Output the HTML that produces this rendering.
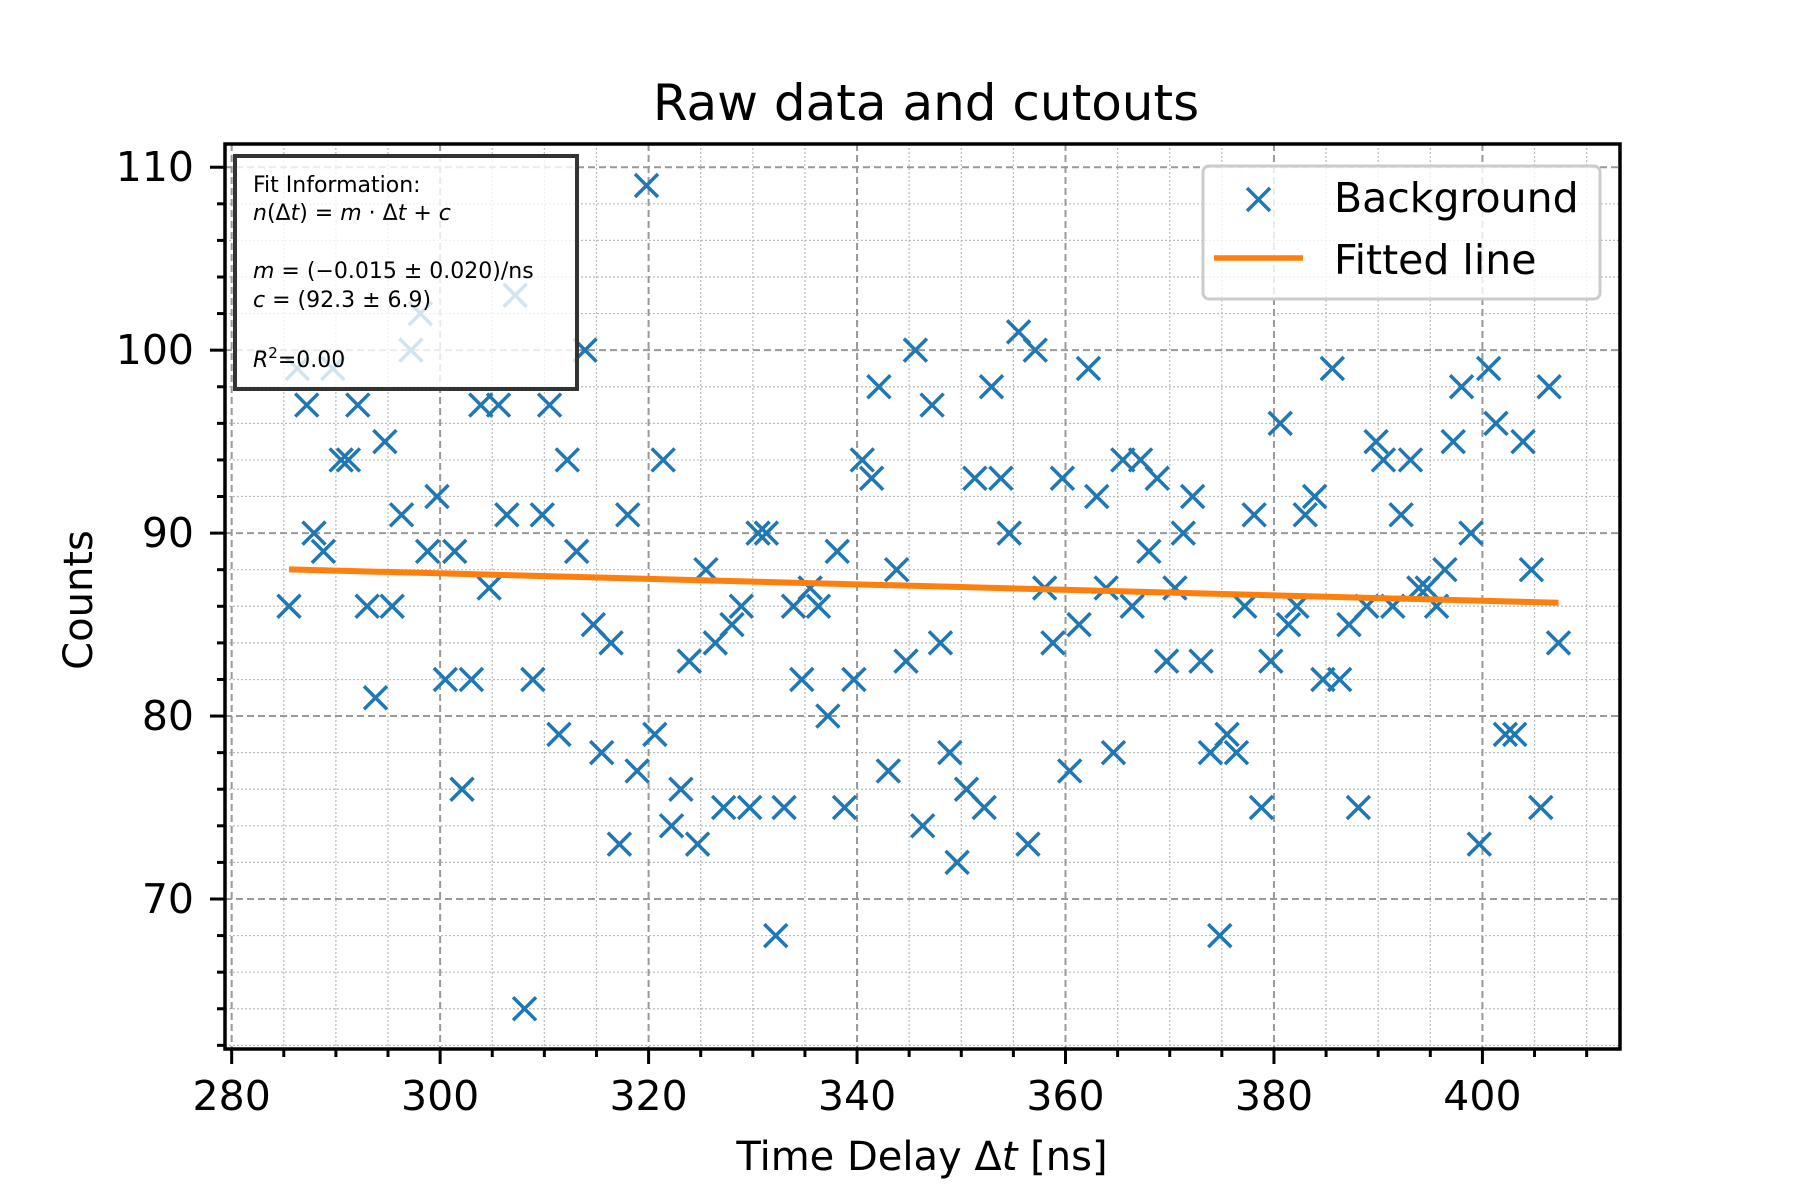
<!DOCTYPE html>
<html><head><meta charset="utf-8"><style>
html,body{margin:0;padding:0;background:#fff}
svg{display:block}
text{font-family:"DejaVu Sans","Liberation Sans",sans-serif}
</style></head><body>
<svg id="chart" width="1800" height="1200" viewBox="0 0 1800 1200" xmlns="http://www.w3.org/2000/svg">
<rect width="1800" height="1200" fill="#fff"/>
<g id="grid"></g>
<g id="marks"></g>
<g id="axes"></g>
<text x="926" y="120" font-size="50" text-anchor="middle">Raw data and cutouts</text>
<text x="922" y="1170" font-size="40" text-anchor="middle">Time Delay Δ<tspan font-style="italic">t</tspan> [ns]</text>
<text transform="translate(92,600) rotate(-90)" font-size="40" text-anchor="middle">Counts</text>
<g>
<rect x="235" y="156" width="342" height="233" fill="#fff" fill-opacity="0.8" stroke="#333" stroke-width="4"/>
<text font-size="22" fill="#000">
<tspan x="253" y="192">Fit Information:</tspan>
<tspan x="253" y="220"><tspan font-style="italic">n</tspan>(Δ<tspan font-style="italic">t</tspan>) = <tspan font-style="italic">m</tspan> · Δ<tspan font-style="italic">t</tspan> + <tspan font-style="italic">c</tspan></tspan>
<tspan x="253" y="278"><tspan font-style="italic">m</tspan> = (−0.015 ± 0.020)/ns</tspan>
<tspan x="253" y="307"><tspan font-style="italic">c</tspan> = (92.3 ± 6.9)</tspan>
<tspan x="253" y="367"><tspan font-style="italic">R</tspan><tspan dy="-9" font-size="15">2</tspan><tspan dy="9">=0.00</tspan></tspan>
</text>
</g>
<g>
<rect x="1203" y="166" width="397" height="133" rx="6" fill="#fff" fill-opacity="0.8" stroke="#ccc" stroke-width="3"/>
<g>
<path d="M1247 188 L1270 211 M1270 188 L1247 211" stroke="#1f77b4" stroke-width="3.5"/>
<text x="1334" y="212" font-size="41">Background</text>
</g>
<g>
<line x1="1214" y1="258" x2="1303" y2="258" stroke="#ff7f0e" stroke-width="5.5"/>
<text x="1334" y="274" font-size="41">Fitted line</text>
</g>
</g>
</svg>
<script>
const xValues = [285.5,286.3,287.2,287.9,288.8,289.7,290.5,291.2,292.1,293.0,293.8,294.7,295.4,296.3,297.2,298.1,298.8,299.7,300.5,301.4,302.1,303.0,303.9,304.7,305.6,306.4,307.2,308.1,308.9,309.8,310.5,311.4,312.2,313.1,313.9,314.7,315.5,316.4,317.2,318.0,318.9,319.8,320.6,321.4,322.2,323.1,323.9,324.7,325.5,326.4,327.2,328.0,328.9,329.7,330.5,331.3,332.2,333.0,333.9,334.7,335.5,336.3,337.2,338.1,338.8,339.7,340.5,341.4,342.1,343.0,343.8,344.7,345.6,346.3,347.2,348.0,348.9,349.6,350.5,351.3,352.2,352.9,353.8,354.6,355.5,356.4,357.1,358.0,358.8,359.7,360.4,361.3,362.2,363.0,363.9,364.6,365.5,366.4,367.2,368.0,368.8,369.7,370.5,371.3,372.2,373.0,373.9,374.8,375.5,376.4,377.2,378.1,378.8,379.7,380.6,381.4,382.2,383.0,383.9,384.7,385.6,386.3,387.2,388.1,388.9,389.8,390.5,391.4,392.2,393.1,393.9,394.7,395.6,396.4,397.2,398.0,398.9,399.7,400.6,401.3,402.2,403.1,403.9,404.7,405.6,406.4,407.3];
const counts = [86,99,97,90,89,99,94,94,97,86,81,95,86,91,100,102,89,92,82,89,76,82,97,87,97,91,103,64,82,91,97,79,94,89,100,85,78,84,73,91,77,109,79,94,74,76,83,73,88,84,75,85,86,75,90,90,68,75,86,82,87,86,80,89,75,82,94,93,98,77,88,83,100,74,97,84,78,72,76,93,75,98,93,90,101,73,100,87,84,93,77,85,99,92,87,78,94,86,94,89,93,83,87,90,92,83,78,68,79,78,86,91,75,83,96,85,86,91,92,82,99,82,85,75,86,95,94,86,91,94,87,87,86,88,95,98,90,73,99,96,79,79,95,88,75,98,84];
const fitSlope = -0.015;
const fitIntercept = 92.3;
const xTicks = [280,300,320,340,360,380,400];
const yTicks = [70,80,90,100,110];

const L=225,R=1620,T=144,B=1049;
const xMin=279.36,xMax=413.2,yMin=61.8,yMax=111.27;
function xs(v){return L+(v-xMin)/(xMax-xMin)*(R-L);}
function ys(v){return B-(v-yMin)/(yMax-yMin)*(B-T);}
const NS='http://www.w3.org/2000/svg';
function mk(tag,attrs,parent){const e=document.createElementNS(NS,tag);for(const k in attrs)e.setAttribute(k,attrs[k]);parent.appendChild(e);return e;}
const grid=document.getElementById('grid'),marks=document.getElementById('marks'),axes=document.getElementById('axes');

for(let v=280;v<=xMax;v+=5){if(v%20===0)continue;const g=mk('line',{x1:xs(v),x2:xs(v),y1:T,y2:B,stroke:'#bbb','stroke-width':1.2,'stroke-dasharray':'2,2'},grid);

}
for(let v=62;v<=yMax;v+=2){if(v%10===0)continue;const g=mk('line',{x1:L,x2:R,y1:ys(v),y2:ys(v),stroke:'#bbb','stroke-width':1.2,'stroke-dasharray':'2,2'},grid);

}
xTicks.forEach(v=>{const g=mk('line',{x1:xs(v),x2:xs(v),y1:T,y2:B,stroke:'#999','stroke-width':2,'stroke-dasharray':'7,4'},grid);

});
yTicks.forEach(v=>{const g=mk('line',{x1:L,x2:R,y1:ys(v),y2:ys(v),stroke:'#999','stroke-width':2,'stroke-dasharray':'7,4'},grid);

});

const h=11.5;
xValues.forEach((xv,i)=>{const cx=xs(xv),cy=ys(counts[i]);
const p=mk('path',{d:`M${cx-h} ${cy-h} L${cx+h} ${cy+h} M${cx+h} ${cy-h} L${cx-h} ${cy+h}`,stroke:'#1f77b4','stroke-width':3.5,fill:'none'},marks);

});
const x0=xValues[0],x1=xValues[xValues.length-1];
const fl=mk('line',{x1:xs(x0),y1:ys(fitIntercept+fitSlope*x0),x2:xs(x1),y2:ys(fitIntercept+fitSlope*x1),stroke:'#ff7f0e','stroke-width':6},marks);



const sp=mk('rect',{x:L,y:T,width:R-L,height:B-T,fill:'none',stroke:'#000','stroke-width':3.5},axes);


for(let v=280;v<=xMax;v+=5){const major=v%20===0;const t=mk('line',{x1:xs(v),x2:xs(v),y1:B,y2:B+(major?15:8),stroke:'#000','stroke-width':3},axes);

}
for(let v=62;v<=yMax;v+=2){const major=v%10===0;const t=mk('line',{x1:L,x2:L-(major?15:8),y1:ys(v),y2:ys(v),stroke:'#000','stroke-width':3},axes);

}
xTicks.forEach(v=>{const t=mk('text',{x:xs(v),y:1110,'font-size':41,'text-anchor':'middle'},axes);t.textContent=v;

});
yTicks.forEach(v=>{const t=mk('text',{x:194,y:ys(v)+14,'font-size':41,'text-anchor':'end'},axes);t.textContent=v;

});
</script>
</body></html>
